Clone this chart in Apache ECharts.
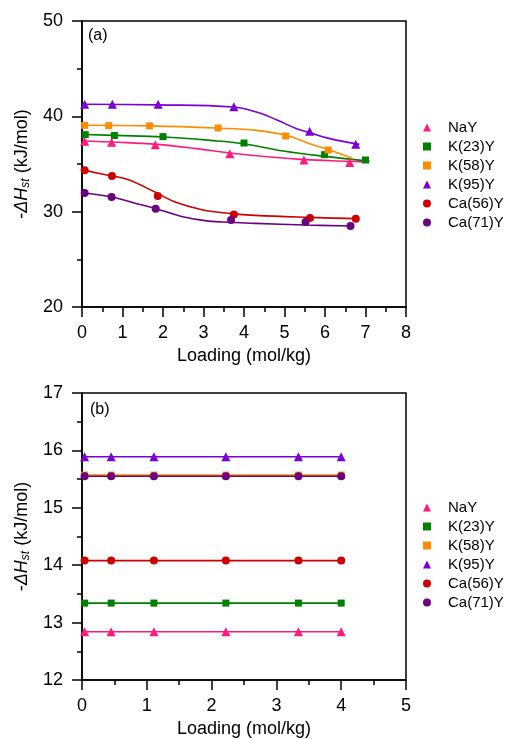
<!DOCTYPE html>
<html>
<head>
<meta charset="utf-8">
<script src="https://cdn.jsdelivr.net/npm/echarts@6/dist/echarts.min.js"></script>
<style>html,body{margin:0;padding:0;background:#fff;}#c{width:509px;height:739px;}</style>
</head>
<body>
<div id="c"></div>
<script>
// ---- Panel (a): measured points ----
const naY_x = [0.065, 0.73, 1.81, 3.65, 5.48, 6.61];
const naY_y = [37.38, 37.27, 37.03, 36.08, 35.42, 35.17];
const k23_x = [0.08, 0.80, 2.0, 4.0, 5.99, 7.0];
const k23_y = [38.08, 37.99, 37.87, 37.2, 35.98, 35.42];
const k58_x = [0.065, 0.66, 1.67, 3.36, 5.03, 6.08];
const k58_y = [39.05, 39.02, 39.0, 38.78, 37.94, 36.47];
const k95_x = [0.065, 0.75, 1.88, 3.75, 5.62, 6.76];
const k95_y = [41.26, 41.26, 41.26, 41.0, 38.43, 37.06];
const ca56_x = [0.065, 0.74, 1.87, 3.75, 5.63, 6.76];
const ca56_y = [34.34, 33.74, 31.64, 29.69, 29.34, 29.27];
const ca71_x = [0.065, 0.73, 1.82, 3.68, 5.52, 6.63];
const ca71_y = [31.96, 31.54, 30.31, 29.13, 28.92, 28.5];

// ---- Panel (a): fitted curves ----
const naY_fit = [[0.065,37.41],[0.74,37.3],[1.85,37.06],[2.83,36.61],[3.65,36.15],[4.64,35.73],[5.5,35.46],[6.61,35.28],[7.02,35.2]];
const k23_fit = [[0.08,38.1],[0.82,38.0],[2.01,37.83],[3.16,37.48],[3.98,37.13],[4.97,36.36],[5.99,35.8],[7.1,35.31]];
const k58_fit = [[0.065,39.07],[1.67,39.0],[3.32,38.77],[4.31,38.53],[5.05,38.0],[5.62,37.13],[6.07,36.54],[6.69,35.56]];
const k95_fit = [[0.04,41.26],[1.88,41.2],[3.73,40.98],[4.31,40.45],[4.8,39.65],[5.3,38.7],[5.62,38.29],[6.12,37.66],[6.85,37.06]];
const ca56_fit = [[0.065,34.33],[0.74,33.74],[1.15,33.36],[1.8,32.06],[2.3,31.01],[2.96,30.21],[3.69,29.79],[4.27,29.61],[5.63,29.4],[6.76,29.27]];
const ca71_fit = [[0.065,31.95],[0.74,31.53],[1.27,30.94],[1.83,30.31],[2.46,29.5],[3.12,29.01],[3.69,28.88],[4.27,28.77],[5.52,28.6],[6.63,28.5]];

// ---- Panel (b) ----
const b_x = [0.04, 0.45, 1.11, 2.22, 3.34, 4.0];
const naY_b = [12.84, 12.84, 12.84, 12.84, 12.84, 12.84];
const k23_b = [13.34, 13.34, 13.34, 13.34, 13.34, 13.34];
const k58_b = [15.57, 15.57, 15.57, 15.57, 15.57, 15.57];
const k95_b = [15.89, 15.89, 15.89, 15.89, 15.89, 15.89];
const ca56_b = [14.08, 14.08, 14.08, 14.08, 14.08, 14.08];
const ca71_b = [15.55, 15.55, 15.55, 15.55, 15.55, 15.55];

const names = ['NaY', 'K(23)Y', 'K(58)Y', 'K(95)Y', 'Ca(56)Y', 'Ca(71)Y'];
const colors = ['#FF1A7F', '#008000', '#FF8C00', '#7B00D6', '#CC0000', '#6B0080'];
const symbols = ['triangle', 'rect', 'rect', 'triangle', 'circle', 'circle'];
const symSizes = [9, 7, 7, 9, 8, 8];

const topX = [naY_x, k23_x, k58_x, k95_x, ca56_x, ca71_x];
const topY = [naY_y, k23_y, k58_y, k95_y, ca56_y, ca71_y];
const topFit = [naY_fit, k23_fit, k58_fit, k95_fit, ca56_fit, ca71_fit];
const botY = [naY_b, k23_b, k58_b, k95_b, ca56_b, ca71_b];

const FONT = 'Liberation Sans';
const black = '#000';

function xAxisCfg(gi, max) {
  return {
    type: 'value', gridIndex: gi, min: 0, max: max, interval: 1,
    name: 'Loading (mol/kg)', nameLocation: 'middle', nameGap: 40,
    nameTextStyle: {fontFamily: FONT, fontSize: 18, color: black},
    axisLine: {show: true, onZero: false, lineStyle: {color: black, width: 1.5}},
    axisTick: {show: true, inside: false, length: 10, lineStyle: {color: black, width: 1.5}},
    minorTick: {show: true, splitNumber: 2, length: 5, lineStyle: {color: black, width: 1.5}},
    axisLabel: {fontFamily: FONT, fontSize: 18, color: black, margin: 17},
    splitLine: {show: false}
  };
}
function yAxisCfg(gi, min, max, interval) {
  return {
    type: 'value', gridIndex: gi, min: min, max: max, interval: interval,
    name: '-{i|ΔH}{s|st} (kJ/mol)', nameLocation: 'middle', nameGap: 41, nameRotate: 90,
    nameTextStyle: {fontFamily: FONT, fontSize: 18, color: black,
      rich: {
        i: {fontFamily: FONT, fontSize: 18, fontStyle: 'italic', color: black},
        s: {fontFamily: FONT, fontSize: 12, fontStyle: 'italic', color: black, padding: [8, 0, 0, 0]}
      }},
    axisLine: {show: true, onZero: false, lineStyle: {color: black, width: 1.5}},
    axisTick: {show: true, inside: false, length: 10, lineStyle: {color: black, width: 1.5}},
    minorTick: {show: true, splitNumber: 2, length: 5, lineStyle: {color: black, width: 1.5}},
    axisLabel: {fontFamily: FONT, fontSize: 18, color: black, margin: 19},
    splitLine: {show: false}
  };
}

const series = [];
// top fits
for (let i = 0; i < 6; i++) {
  series.push({
    name: names[i] + ' fit', type: 'line', xAxisIndex: 0, yAxisIndex: 0,
    data: topFit[i], smooth: 0.4, showSymbol: false, symbol: 'none',
    lineStyle: {color: colors[i], width: 1.6}, itemStyle: {color: colors[i]},
    silent: true, z: 2
  });
}
// top markers
for (let i = 0; i < 6; i++) {
  series.push({
    name: names[i], type: 'scatter', xAxisIndex: 0, yAxisIndex: 0,
    data: topX[i].map((x, j) => [x, topY[i][j]]),
    symbol: symbols[i], symbolSize: symSizes[i],
    itemStyle: {color: colors[i], opacity: 1}, z: 3
  });
}
// bottom lines with markers
for (let i = 0; i < 6; i++) {
  series.push({
    name: names[i], type: 'line', xAxisIndex: 1, yAxisIndex: 1,
    data: b_x.map((x, j) => [x, botY[i][j]]),
    symbol: symbols[i], symbolSize: symSizes[i], showSymbol: true,
    lineStyle: {color: colors[i], width: 1.6}, itemStyle: {color: colors[i]},
    z: 3
  });
}

function legendCfg(top) {
  return {
    orient: 'vertical', left: 418, top: top,
    itemWidth: 8, itemHeight: 8, itemGap: 4,
    data: names.map((n, i) => ({name: n, icon: symbols[i]})),
    textStyle: {fontFamily: FONT, fontSize: 15, color: black, lineHeight: 15, padding: [0, 0, 0, 12]},
    selectedMode: false
  };
}

const option = {
  backgroundColor: '#fff',
  animation: false,
  grid: [
    {left: 82, top: 21, width: 324, height: 286, show: true, borderColor: black, borderWidth: 1.5, containLabel: false},
    {left: 82, top: 393, width: 324, height: 287, show: true, borderColor: black, borderWidth: 1.5, containLabel: false}
  ],
  xAxis: [xAxisCfg(0, 8), xAxisCfg(1, 5)],
  yAxis: [yAxisCfg(0, 20, 50, 10), yAxisCfg(1, 12, 17, 1)],
  legend: [legendCfg(115), legendCfg(495)],
  graphic: [
    {type: 'text', left: 88, top: 28, style: {text: '(a)', fontFamily: FONT, fontSize: 16, fill: black}},
    {type: 'text', left: 90, top: 402, style: {text: '(b)', fontFamily: FONT, fontSize: 16, fill: black}}
  ],
  series: series
};

const chart = echarts.init(document.getElementById('c'), null, {renderer: 'canvas'});
chart.setOption(option);
</script>
</body>
</html>
